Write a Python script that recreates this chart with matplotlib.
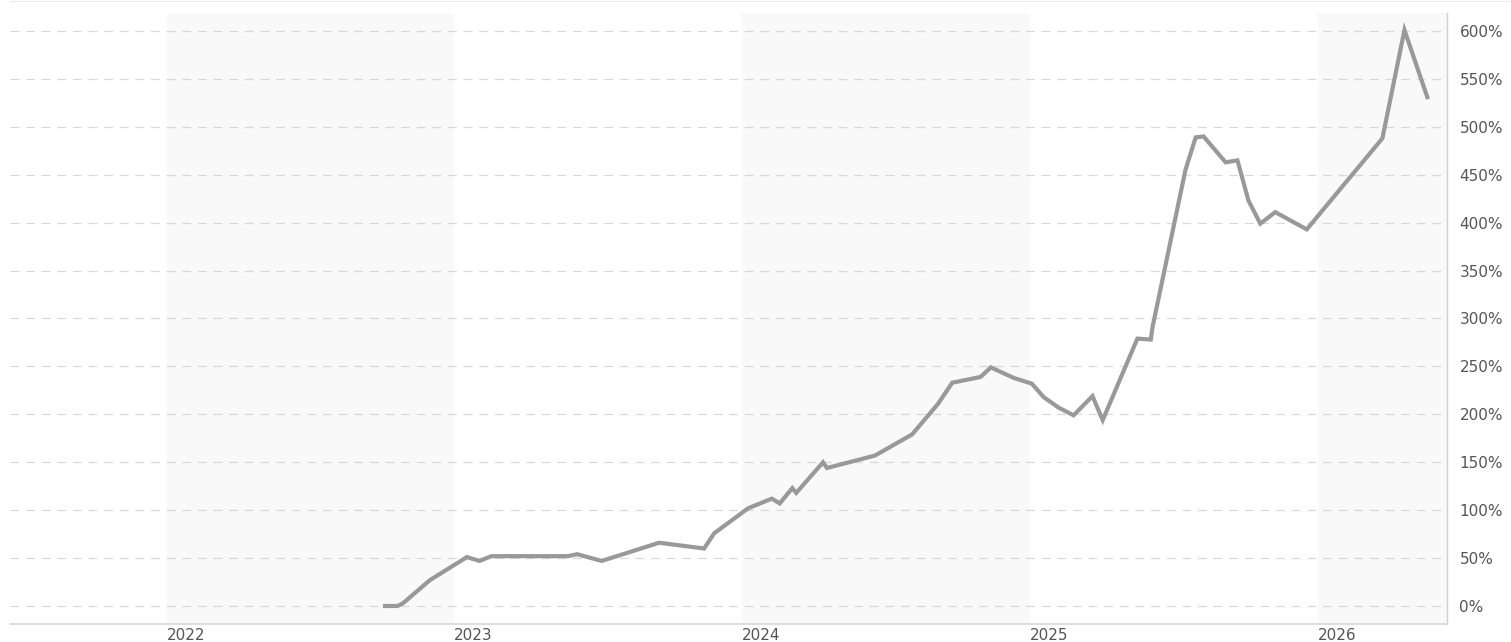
import numpy as np
import pandas as pd
import matplotlib
matplotlib.use('Agg')
import matplotlib.pyplot as plt
from matplotlib.ticker import FuncFormatter

# data (cumulative return, %)
dates = ['2022-10-05', '2022-10-21', '2022-10-28', '2022-12-01', '2023-01-17',
         '2023-02-02', '2023-02-17', '2023-05-25', '2023-06-06', '2023-07-07',
         '2023-09-18', '2023-11-14', '2023-11-27', '2024-01-09', '2024-02-08',
         '2024-02-18', '2024-03-05', '2024-03-10', '2024-04-13', '2024-04-18',
         '2024-06-18', '2024-08-04', '2024-09-06', '2024-09-24', '2024-10-30',
         '2024-11-12', '2024-12-11', '2025-01-03', '2025-01-18', '2025-02-06',
         '2025-02-25', '2025-03-21', '2025-04-03', '2025-05-17', '2025-06-03',
         '2025-06-05', '2025-07-17', '2025-07-30', '2025-08-09', '2025-09-06',
         '2025-09-21', '2025-10-05', '2025-10-20', '2025-11-08', '2025-12-18',
         '2026-03-24', '2026-04-21', '2026-05-20']
returns = [0, 0, 3, 27, 51,
           47, 52, 52, 54, 47,
           66, 60, 76, 102, 112,
           107, 123, 118, 150, 144,
           157, 179, 211, 233, 239,
           249, 238, 232, 218, 207,
           199, 219, 194, 279, 278,
           290, 455, 489, 490, 463,
           465, 423, 399, 411, 393,
           488, 601, 531]
years = [2022, 2023, 2024, 2025, 2026]
shaded_years = [2022, 2024, 2026]
yticks = np.arange(0, 601, 50)

x = pd.to_datetime(dates)

plt.rcParams['font.family'] = ['DejaVu Sans']

W, H = 1511, 642
fig = plt.figure(figsize=(W / 100, H / 100), dpi=100)
ax = fig.add_axes([10 / W, 18 / H, (1447 - 10) / W, (624 - 13) / H])

xmin = pd.Timestamp('2021-06-16')
xmax = pd.Timestamp('2026-06-14')

for yr in shaded_years:
    ax.axvspan(pd.Timestamp(f'{yr}-01-01'), pd.Timestamp(f'{yr + 1}-01-01'),
               color='#f9f9f9', lw=0, zorder=0)

ax.plot(x, returns, color='#999999', lw=3, solid_joinstyle='miter', zorder=3)

ax.set_xlim(xmin, xmax)
ax.set_ylim(-18.8, 618.8)

ax.yaxis.tick_right()
ax.set_yticks(yticks)
ax.yaxis.set_major_formatter(FuncFormatter(lambda v, p: f'{int(v)}%'))
ax.set_xticks([pd.Timestamp(f'{yr}-01-01') for yr in years])
ax.set_xticklabels([str(yr) for yr in years], ha='left')
ax.tick_params(axis='both', length=0, labelsize=11, colors='#555555')
ax.tick_params(axis='y', pad=9)
ax.tick_params(axis='x', pad=3)

for v in yticks:
    ax.axhline(v, color='#d9d9d9', lw=0.9, linestyle=(0, (7, 5.5)), zorder=1)

for s in ['left', 'top']:
    ax.spines[s].set_visible(False)
ax.spines['right'].set_color('#d0d0d0')
ax.spines['bottom'].set_color('#d8d8d8')
ax.spines['right'].set_linewidth(1)
ax.spines['bottom'].set_linewidth(1.2)

# faint border along the top
fig.add_artist(plt.Line2D([10 / W, 1], [1 - 0.5 / H, 1 - 0.5 / H],
                          color='#eeeeee', lw=1))

fig.savefig('out.png', dpi=100)
